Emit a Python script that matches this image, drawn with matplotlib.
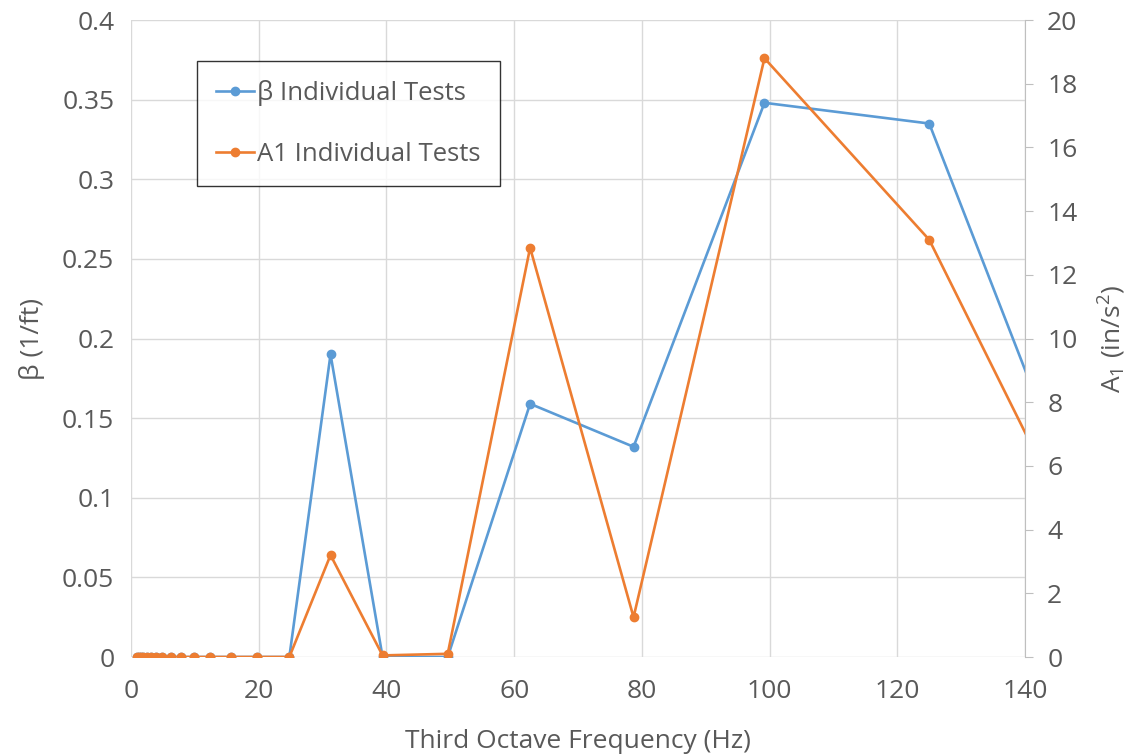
import matplotlib
matplotlib.use("Agg")
import matplotlib.pyplot as plt

plt.rcParams['font.family'] = ['Open Sans', 'DejaVu Sans']
plt.rcParams['mathtext.fontset'] = 'custom'
plt.rcParams['mathtext.rm'] = 'Open Sans'
plt.rcParams['mathtext.it'] = 'Open Sans'

freq = [0.98, 1.23, 1.55, 1.95, 2.46, 3.1, 3.9, 4.92, 6.2, 7.81, 9.84, 12.4,
        15.6, 19.7, 24.8, 31.25, 39.4, 49.6, 62.5, 78.7, 99.2, 125.0, 157.5]
beta = [0, 0, 0, 0, 0, 0, 0, 0, 0, 0, 0, 0, 0, 0, 0,
        0.190, 0.0, 0.0, 0.159, 0.132, 0.348, 0.335, 0.0]
a1 = [0, 0, 0, 0, 0, 0, 0, 0, 0, 0, 0, 0, 0, 0, 0,
      3.2, 0.05, 0.1, 12.85, 1.25, 18.8, 13.1, 0.0]

x_ticks = [0, 20, 40, 60, 80, 100, 120, 140]
beta_ticks = [0, 0.05, 0.1, 0.15, 0.2, 0.25, 0.3, 0.35, 0.4]
beta_labels = ['0', '0.05', '0.1', '0.15', '0.2', '0.25', '0.3', '0.35', '0.4']
a1_ticks = [0, 2, 4, 6, 8, 10, 12, 14, 16, 18, 20]

blue = '#5B9BD5'
orange = '#ED7D31'
txt = '#595959'
grid = '#D9D9D9'

fig = plt.figure(figsize=(11.31, 7.55), dpi=100)
ax = fig.add_axes([0.1158, 0.1298, 0.7905, 0.8437])
ax2 = ax.twinx()

l1, = ax.plot(freq, beta, color=blue, lw=1.9, marker='o', ms=6,
              label='β Individual Tests', zorder=3)
l2, = ax2.plot(freq, a1, color=orange, lw=1.9, marker='o', ms=6,
               label='A1 Individual Tests', zorder=3)

ax.set_xlim(0, 140)
ax.set_ylim(0, 0.4)
ax2.set_ylim(0, 20)
ax.set_xticks(x_ticks)
ax.set_yticks(beta_ticks)
ax.set_yticklabels(beta_labels)
ax2.set_yticks(a1_ticks)

ax.grid(True, color=grid, lw=1.0)
ax.set_axisbelow(True)

for a in (ax, ax2):
    for s in a.spines.values():
        s.set_visible(False)
ax2.spines['right'].set_visible(True)
ax2.spines['right'].set_color('#BFBFBF')

ax.tick_params(axis='y', length=0, labelsize=19, labelcolor=txt, pad=12)
ax.tick_params(axis='x', length=0, labelsize=19, labelcolor=txt, pad=16)
ax2.tick_params(axis='y', length=6, color='#BFBFBF', labelsize=19, labelcolor=txt, pad=10)

ax.set_xlabel('Third Octave Frequency (Hz)', fontsize=19, color=txt, labelpad=18)
ax.set_ylabel('β (1/ft)', fontsize=19, color=txt, labelpad=12)
ax2.set_ylabel('A$_1$ (in/s$^2$)', fontsize=19, color=txt, labelpad=14)

leg = ax.legend(handles=[l1, l2], loc='upper left', bbox_to_anchor=(0.074, 0.936),
                fontsize=18.5, frameon=True, fancybox=False, labelspacing=1.4,
                handlelength=1.45, handletextpad=0.12, borderpad=0.75, borderaxespad=0)
leg.get_frame().set_edgecolor('black')
leg.get_frame().set_linewidth(1.0)
for t in leg.get_texts():
    t.set_color(txt)

fig.savefig('out.png', dpi=100, facecolor='white')
